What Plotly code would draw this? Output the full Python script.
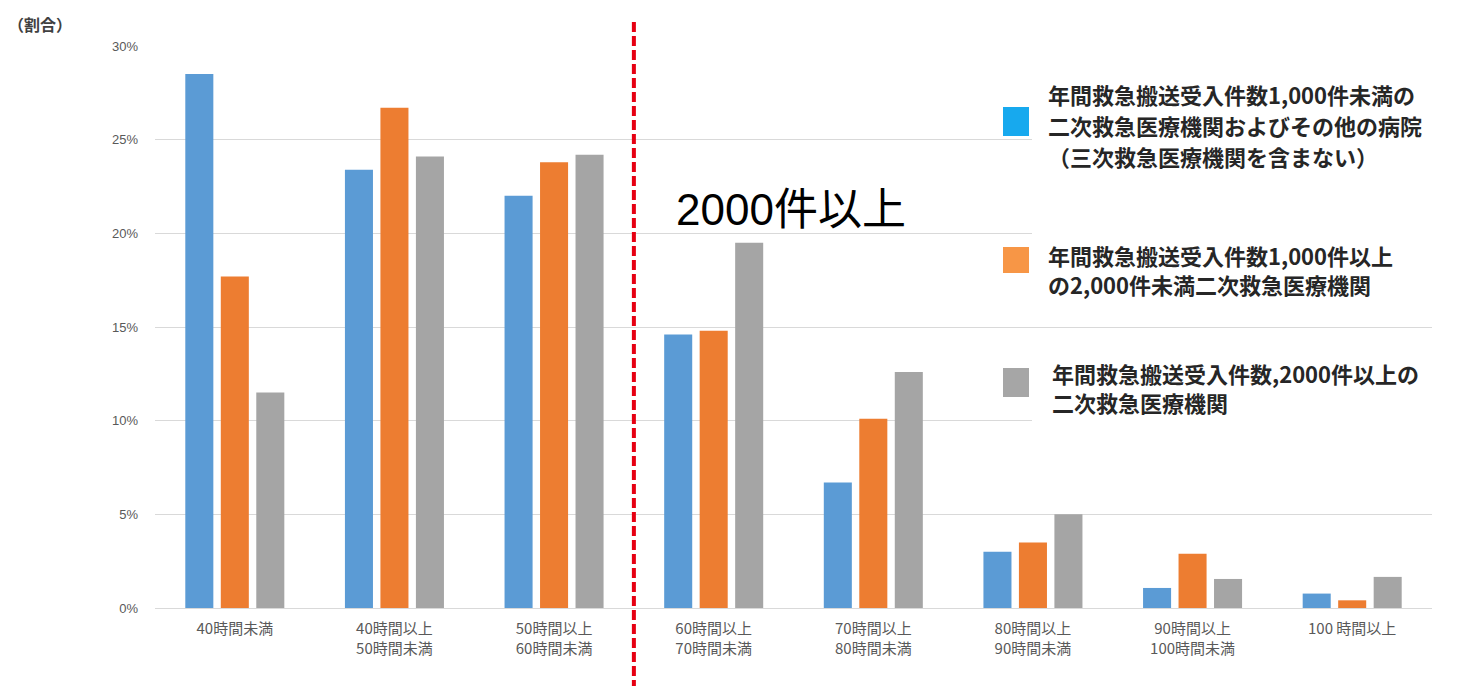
import plotly.graph_objects as go

# Weekly working-hour bands (x categories)
categories = [
    "40時間未満",
    "40時間以上<br>50時間未満",
    "50時間以上<br>60時間未満",
    "60時間以上<br>70時間未満",
    "70時間以上<br>80時間未満",
    "80時間以上<br>90時間未満",
    "90時間以上<br>100時間未満",
    "100 時間以上",
]

# Share of physicians (%) by hospital type
under_1000 = [28.5, 23.4, 22.0, 14.6, 6.7, 3.0, 1.07, 0.77]
from_1000_to_2000 = [17.7, 26.7, 23.8, 14.8, 10.1, 3.5, 2.9, 0.41]
over_2000 = [11.5, 24.1, 24.2, 19.5, 12.6, 5.0, 1.55, 1.66]

# Legend wording, one list of lines per series
series_lines = [
    ["年間救急搬送受入件数1,000件未満の",
     "二次救急医療機関およびその他の病院",
     "（三次救急医療機関を含まない）"],
    ["年間救急搬送受入件数1,000件以上",
     "の2,000件未満二次救急医療機関"],
    ["年間救急搬送受入件数,2000件以上の",
     "二次救急医療機関"],
]
series_values = [under_1000, from_1000_to_2000, over_2000]

y_ticks = [0, 5, 10, 15, 20, 25, 30]
y_tick_labels = ["0%", "5%", "10%", "15%", "20%", "25%", "30%"]

bar_colors = ["#5B9BD5", "#ED7D31", "#A5A5A5"]
swatch_colors = ["#17A9EE", "#F79646", "#A6A6A6"]

W, H = 1462, 686
M_L, M_R, M_T, M_B = 155, 30, 46, 78


def px_x(x):
    return (x - M_L) / (W - M_L - M_R)


def px_y(y):
    return (H - M_B - y) / (H - M_T - M_B)


CJK = "Noto Sans CJK JP"

fig = go.Figure()
for lines, vals, col in zip(series_lines, series_values, bar_colors):
    fig.add_trace(go.Bar(x=categories, y=vals, name="".join(lines), marker_color=col,
                         marker_line_width=0, showlegend=False))

fig.update_layout(
    width=W, height=H,
    margin=dict(l=M_L, r=M_R, t=M_T, b=M_B),
    paper_bgcolor="white", plot_bgcolor="white",
    barmode="group", bargap=0.333, bargroupgap=0.21,
    font=dict(family=CJK, color="#595959"),
    xaxis=dict(showgrid=False, showline=False, ticks="", zeroline=False,
               tickfont=dict(size=15, color="#595959", family=CJK),
               ticklabelstandoff=10),
    yaxis=dict(range=[0, 30], tickmode="array", tickvals=y_ticks, ticktext=y_tick_labels,
               showgrid=True, gridcolor="#D9D9D9", gridwidth=1,
               zeroline=True, zerolinecolor="#D9D9D9", zerolinewidth=1,
               showline=False, ticks="",
               tickfont=dict(size=13, color="#595959", family="Liberation Sans"),
               ticklabelstandoff=16),
)

shapes = []
# white panels behind the legend entries hide the gridlines there
for y0, y1 in [(23.0, 28.6), (16.2, 20.6), (9.3, 13.8)]:
    shapes.append(dict(type="rect", xref="paper", yref="y", layer="above",
                       x0=px_x(1032), x1=1.0, y0=y0, y1=y1,
                       fillcolor="white", line_width=0))

# red dashed divider between the 50-60h and 60-70h bands
shapes.append(dict(type="line", xref="x", yref="paper", x0=2.5, x1=2.5,
                   y0=px_y(690), y1=px_y(18),
                   line=dict(color="#E60012", width=4, dash="10px,4px")))

# legend swatches
swatch_boxes = [(107, 136), (247, 273), (368, 397)]
for (t, b), col in zip(swatch_boxes, swatch_colors):
    shapes.append(dict(type="rect", xref="paper", yref="paper",
                       x0=px_x(1003), x1=px_x(1029), y0=px_y(b), y1=px_y(t),
                       fillcolor=col, line_width=0, layer="above"))
fig.update_layout(shapes=shapes)

annotations = [
    dict(text="（割合）", xref="paper", yref="paper", x=px_x(6), y=px_y(24),
         xanchor="left", yanchor="middle", showarrow=False,
         font=dict(family=CJK, size=16, color="#404040", weight="bold")),
    dict(text="2000件以上", xref="paper", yref="paper", x=px_x(791), y=px_y(210),
         xanchor="center", yanchor="middle", showarrow=False,
         font=dict(family="Liberation Sans, " + CJK, size=44, color="black")),
]
# legend text: left edge, first-line centre and line pitch per entry
legend_pos = [(1046, 94, 31), (1046, 255, 29), (1050, 373, 29)]
for lines, (lx, ly, pitch) in zip(series_lines, legend_pos):
    for i, line in enumerate(lines):
        annotations.append(dict(text=line, xref="paper", yref="paper",
                                x=px_x(lx), y=px_y(ly + i * pitch),
                                xanchor="left", yanchor="middle",
                                showarrow=False,
                                font=dict(family=CJK, size=22, color="#262626",
                                          weight="bold")))
fig.update_layout(annotations=annotations)

fig.write_html("out.html")
